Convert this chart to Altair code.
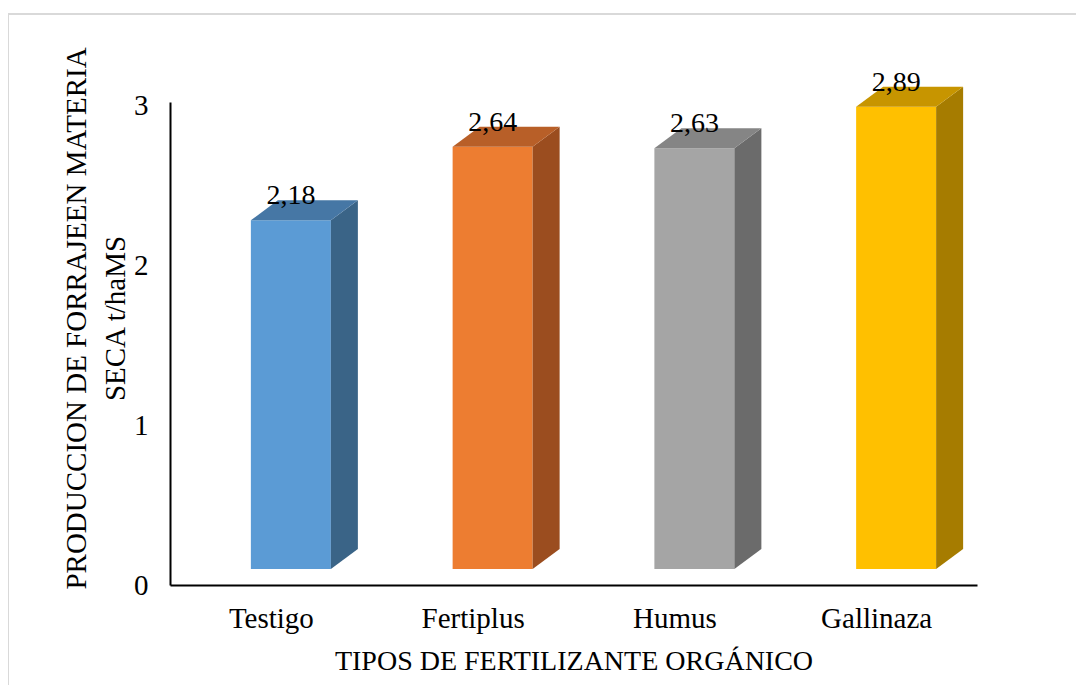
import altair as alt
import pandas as pd

categories = ["Testigo", "Fertiplus", "Humus", "Gallinaza"]
values = [2.18, 2.64, 2.63, 2.89]
value_labels = ["2,18", "2,64", "2,63", "2,89"]
front_colors = ["#5B9BD5", "#ED7D31", "#A5A5A5", "#FFC000"]
side_colors = ["#3A6487", "#9B4D1F", "#6B6B6B", "#A67C00"]
top_colors = ["#4677A5", "#B85F28", "#858585", "#C79500"]

W, H = 807, 483
YMAX = 3.02
px_x = 4 / W          # data units per pixel (x)
px_y = YMAX / H       # data units per pixel (y)
FL, FR = -20 * px_x, 60 * px_x    # front face edges relative to slot centre
DX, DY = 27 * px_x, 20 * px_y     # depth of the 3D projection
BASE = 16 * px_y                  # floor offset

front_rows, side_rows, top_rows, label_rows = [], [], [], []
for i, (c, v, lab) in enumerate(zip(categories, values, value_labels)):
    cx = i + 0.5
    front_rows.append(dict(cat=c, x=cx + FL, x2=cx + FR, y=BASE, y2=v + BASE))
    side_rows.append(dict(cat=c, x=cx + FR, y=BASE, y2=v + BASE))
    side_rows.append(dict(cat=c, x=cx + FR + DX, y=BASE + DY, y2=v + BASE + DY))
    top_rows.append(dict(cat=c, y=v + BASE, x=cx + FL, x2=cx + FR))
    top_rows.append(dict(cat=c, y=v + BASE + DY, x=cx + FL + DX, x2=cx + FR + DX))
    label_rows.append(dict(cat=c, x=cx + (FL + FR) / 2, y=v + BASE + DY, label=lab))

front_df = pd.DataFrame(front_rows)
side_df = pd.DataFrame(side_rows)
top_df = pd.DataFrame(top_rows)
label_df = pd.DataFrame(label_rows)

FONT = "Liberation Serif"
label_expr = " : ".join(
    [f"datum.value < {i + 1} ? '{c}'" for i, c in enumerate(categories[:-1])]
) + f" : '{categories[-1]}'"

xscale = alt.Scale(domain=[0, 4], nice=False, zero=False)
yscale = alt.Scale(domain=[0, YMAX], nice=False)

x_axis = alt.Axis(
    values=[0.5, 1.5, 2.5, 3.5], labelExpr=label_expr, ticks=False, grid=False,
    domainColor="black", domainWidth=2, labelFont=FONT, labelFontSize=29,
    labelColor="black", labelPadding=19, title="TIPOS DE FERTILIZANTE ORGÁNICO",
    titleFont=FONT, titleFontSize=28, titleFontWeight="normal", titleColor="black",
    titlePadding=14,
)
y_axis = alt.Axis(
    values=[0, 1, 2, 3], format="d", ticks=False, grid=False, domainColor="black",
    domainWidth=2, labelFont=FONT, labelFontSize=29, labelColor="black", labelPadding=22,
    title=["PRODUCCION DE FORRAJEEN MATERIA", "SECA t/haMS"],
    titleFont=FONT, titleFontSize=29, titleFontWeight="normal", titleColor="black",
    titleAngle=270, titleAlign="center", titleBaseline="middle",
    titleX=-94, titleY=216, titleLineHeight=39,
)

frame = alt.Chart(pd.DataFrame({"a": [0]})).mark_rect(
    fillOpacity=0, stroke="#D9D9D9", strokeWidth=2
).encode(
    x=alt.value(-162), x2=alt.value(W + 400),
    y=alt.value(-88), y2=alt.value(H + 400),
)

front = alt.Chart(front_df).mark_rect().encode(
    x=alt.X("x:Q", scale=xscale, axis=x_axis),
    x2="x2:Q",
    y=alt.Y("y:Q", scale=yscale, axis=y_axis),
    y2="y2:Q",
    fill=alt.Fill("cat:N", scale=alt.Scale(domain=categories, range=front_colors), legend=None),
)

side = alt.Chart(side_df).mark_area(orient="vertical", interpolate="linear").encode(
    x=alt.X("x:Q", scale=xscale),
    y=alt.Y("y:Q", scale=yscale),
    y2="y2:Q",
    fill=alt.Fill("cat:N", scale=alt.Scale(domain=categories, range=side_colors), legend=None),
    detail="cat:N",
)

top = alt.Chart(top_df).mark_area(orient="horizontal", interpolate="linear").encode(
    y=alt.Y("y:Q", scale=yscale),
    x=alt.X("x:Q", scale=xscale),
    x2="x2:Q",
    fill=alt.Fill("cat:N", scale=alt.Scale(domain=categories, range=top_colors), legend=None),
    detail="cat:N",
)

labels = alt.Chart(label_df).mark_text(
    font=FONT, fontSize=28, color="black", baseline="alphabetic", align="center", dy=4
).encode(
    x=alt.X("x:Q", scale=xscale),
    y=alt.Y("y:Q", scale=yscale),
    text="label:N",
)

chart = alt.layer(frame, front, side, top, labels).resolve_scale(fill="independent").properties(
    width=W, height=H,
    background="white",
    autosize=alt.AutoSizeParams(type="none"),
    padding={"left": 162, "top": 94, "right": 99, "bottom": 100},
).configure_view(strokeWidth=0, stroke="transparent")

chart.save("out.html", embed_options={"renderer": "svg", "actions": False})
